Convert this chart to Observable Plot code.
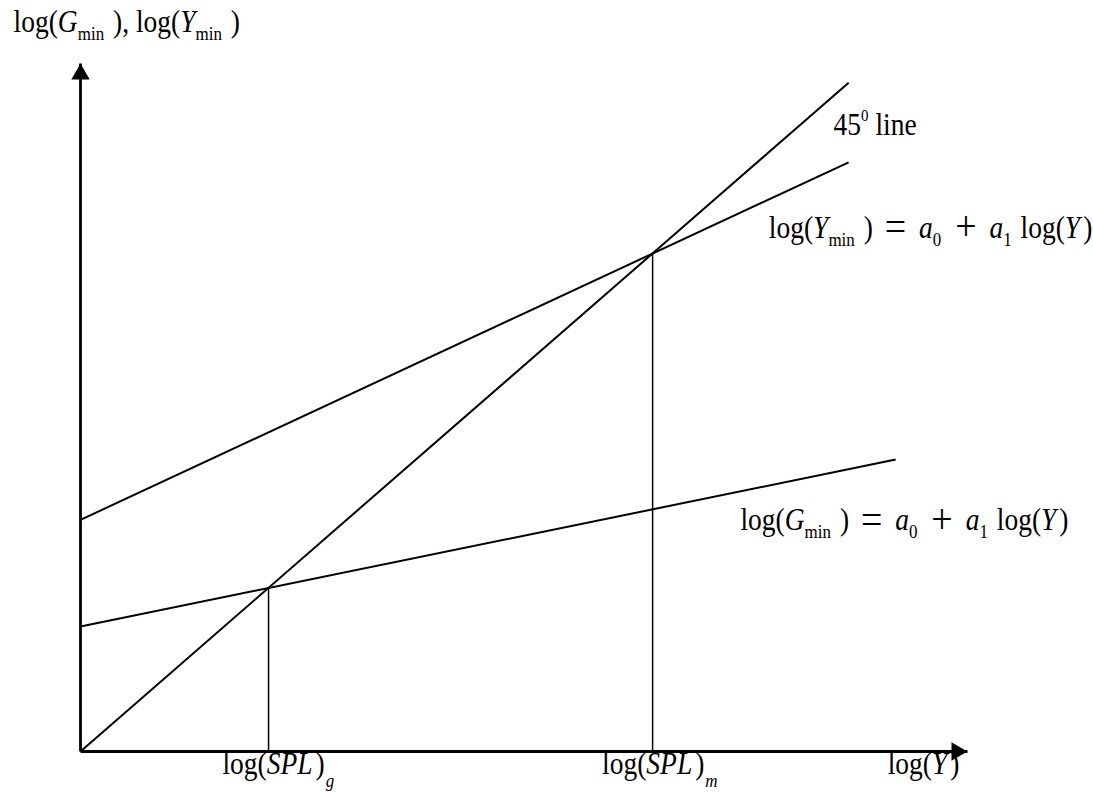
<!DOCTYPE html>
<html>
<head>
<meta charset="utf-8">
<script src="https://cdn.jsdelivr.net/npm/d3@7"></script>
<script src="https://cdn.jsdelivr.net/npm/@observablehq/plot@0.6"></script>
<style>
  html, body { margin: 0; padding: 0; background: #fff; overflow: hidden; }
  #chart svg { display: block; max-width: none; }
</style>
</head>
<body>
<div id="chart"></div>
<script>
// ---- data (conceptual units) ----
const axisXEnd = 10;      // end of the log(Y) axis
const axisYEnd = 8.91;    // end of the vertical axis

const lineNames = ["45° line", "log(Ymin)", "log(Gmin)"];
const lineX0 = [0, 0, 0];
const lineY0 = [0, 3.0, 1.62];
const lineX1 = [8.66, 8.66, 9.19];
const lineY1 = [8.66, 7.63, 3.78];

const splNames = ["g", "m"];
const splValues = [2.12, 6.45];
const splHeights = [2.12, 6.45];

// annotation texts (markup: <i> italic, <sub> subscript, <isub> italic subscript, <sup> superscript, <op> operator)
const labelTexts = [
  "log(<i>G</i><sub>min</sub> ), log(<i>Y</i><sub>min</sub> )",
  "45<sup>0</sup> line",
  "log(<i>Y</i><sub>min</sub> ) <op>=</op> <i>a</i><sub>0</sub> <op>+</op> <i>a</i><sub>1</sub> log(<i>Y</i>)",
  "log(<i>G</i><sub>min</sub> ) <op>=</op> <i>a</i><sub>0</sub> <op>+</op> <i>a</i><sub>1</sub> log(<i>Y</i>)",
  "log(<i>SPL</i>)<isub>g</isub>",
  "log(<i>SPL</i>)<isub>m</isub>",
  "log(<i>Y</i>)"
];
const labelX = [-0.755, 8.49, 7.76, 7.44, 1.60, 5.88, 9.10];
const labelY = [9.311, 7.977, 6.65, 2.862, -0.285, -0.285, -0.285];

// ---- tables built from the arrays ----
const lines = lineNames.map((n, i) => ({name: n, x1: lineX0[i], y1: lineY0[i], x2: lineX1[i], y2: lineY1[i]}));
const drops = splNames.map((n, i) => ({name: n, x: splValues[i], y: splHeights[i]}));
const labels = labelTexts.map((t, i) => ({text: t, x: labelX[i], y: labelY[i]}));
const axes = [
  {x1: 0, y1: 0, x2: axisXEnd, y2: 0},
  {x1: 0, y1: 0, x2: 0, y2: axisYEnd}
];

const FONT = "Liberation Serif, Times New Roman, serif";

const plot = Plot.plot({
  width: 1093,
  height: 792,
  x: {domain: [0, 10], range: [80, 967], axis: null},
  y: {domain: [0, 9], range: [751, 56], axis: null},
  marks: [
    Plot.link(lines, {x1: "x1", y1: "y1", x2: "x2", y2: "y2", stroke: "black", strokeWidth: 2}),
    Plot.ruleX(drops, {x: "x", y1: 0, y2: "y", stroke: "black", strokeWidth: 1.5}),
    Plot.link(axes, {x1: "x1", y1: "y1", x2: "x2", y2: "y2", stroke: "black", strokeWidth: 2.8, strokeLinecap: "butt"}),
    Plot.dot([{x: 0, y: axisYEnd}], {x: "x", y: "y", symbol: "triangle", r: 6.85, fill: "black", stroke: "none", dy: 10.7}),
    Plot.dot([{x: axisXEnd, y: 0}], {x: "x", y: "y", symbol: "triangle", r: 6.85, fill: "black", stroke: "none", rotate: 90, dx: -10.7}),
    Plot.text(labels, {x: "x", y: "y", text: "text", textAnchor: "start", lineAnchor: "bottom",
      fontSize: 27.5, fontFamily: FONT, fill: "black"})
  ]
});

// turn markup into tspans (real text), with a slight vertical stretch like the reference
const NS = "http://www.w3.org/2000/svg";
const STRETCH = 1.12;
plot.querySelectorAll("g[aria-label='text'] text").forEach(el => {
  const src = el.textContent;
  el.textContent = "";
  el.setAttribute("style", "white-space: pre");
  const re = /<(i|sub|isub|sup|op)>(.*?)<\/\1>|([^<]+)/g;
  let m, shift = 0, afterItalic = false, afterOp = false, afterSub = false;
  while ((m = re.exec(src))) {
    const ts = document.createElementNS(NS, "tspan");
    const kind = m[3] !== undefined ? "plain" : m[1];
    let dx = 0;
    if (afterItalic && kind === "plain") dx += 3;
    if (afterSub && kind === "plain") dx += 2;
    if (afterOp) dx += 6;
    afterItalic = false; afterOp = false; afterSub = false;
    let off = 0;
    ts.textContent = m[3] !== undefined ? m[3] : m[2];
    if (kind === "sub") { off = 7; ts.setAttribute("font-size", 17); afterSub = true; }
    if (kind === "isub") { off = 12; ts.setAttribute("font-size", 17); ts.setAttribute("font-style", "italic"); dx += 1; }
    if (kind === "sup") { off = -13; ts.setAttribute("font-size", 15); }
    if (kind === "i") { ts.setAttribute("font-style", "italic"); afterItalic = true; }
    if (kind === "op") { off = 2; ts.setAttribute("font-size", 38); dx += 5; afterOp = true; }
    if (off - shift !== 0) ts.setAttribute("dy", off - shift);
    if (dx) ts.setAttribute("dx", dx);
    shift = off;
    el.appendChild(ts);
  }
  const x = +el.getAttribute("x") || 0, y = +el.getAttribute("y") || 0;
  const t = el.getAttribute("transform") || "";
  if (!el.hasAttribute("x") && /translate\(/.test(t)) {
    el.setAttribute("transform", t + ` scale(1,${STRETCH})`);
  } else {
    el.setAttribute("transform", `${t} translate(${x},${y}) scale(1,${STRETCH}) translate(${-x},${-y})`);
  }
});

document.getElementById("chart").appendChild(plot);
</script>
</body>
</html>
